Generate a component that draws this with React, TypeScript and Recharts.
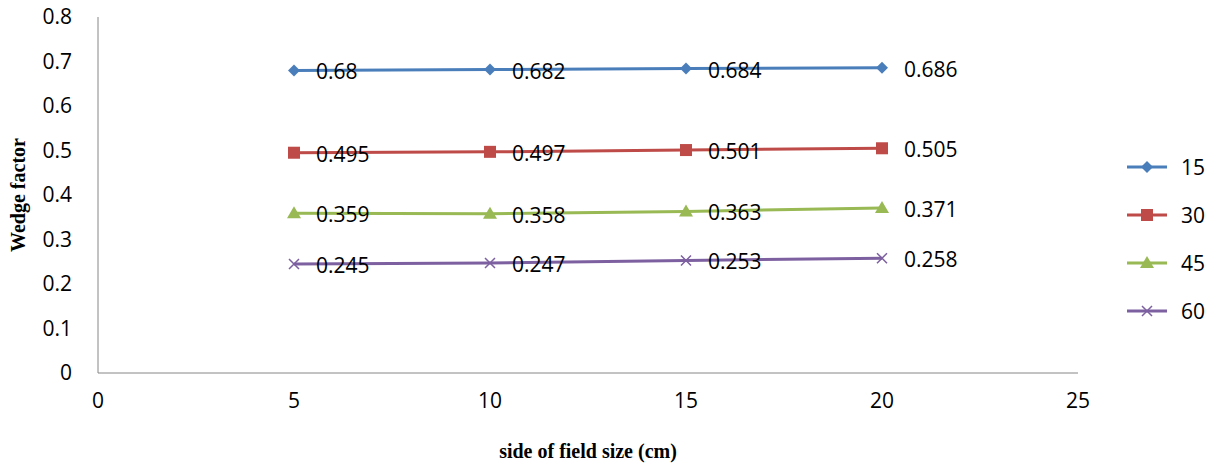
import React from "react";
import { LineChart, Line, XAxis, YAxis, Legend, LabelList, Label } from "recharts";

const fieldSizes = [5, 10, 15, 20];
const s15 = [0.68, 0.682, 0.684, 0.686];
const s30 = [0.495, 0.497, 0.501, 0.505];
const s45 = [0.359, 0.358, 0.363, 0.371];
const s60 = [0.245, 0.247, 0.253, 0.258];
const xTicks = [0, 5, 10, 15, 20, 25];
const yTicks = [0, 0.1, 0.2, 0.3, 0.4, 0.5, 0.6, 0.7, 0.8];

const data = fieldSizes.map((x, i) => ({ x, s15: s15[i], s30: s30[i], s45: s45[i], s60: s60[i] }));

const series = [
  { key: "s15", name: "15", color: "#4A7EBB", shape: "diamond" },
  { key: "s30", name: "30", color: "#BE4B48", shape: "square" },
  { key: "s45", name: "45", color: "#98B954", shape: "triangle" },
  { key: "s60", name: "60", color: "#7D60A0", shape: "cross" },
];

const font = "'Open Sans', 'Noto Sans', sans-serif";

function Marker({ cx, cy, shape, color }: any) {
  if (cx == null || cy == null) return null;
  if (shape === "diamond")
    return <path d={`M${cx},${cy - 6}L${cx + 6},${cy}L${cx},${cy + 6}L${cx - 6},${cy}Z`} fill={color} />;
  if (shape === "square") return <rect x={cx - 6} y={cy - 6} width={12} height={12} fill={color} />;
  if (shape === "triangle")
    return <path d={`M${cx},${cy - 7}L${cx + 7},${cy + 5}L${cx - 7},${cy + 5}Z`} fill={color} />;
  return (
    <path d={`M${cx - 5},${cy - 5}L${cx + 5},${cy + 5}M${cx - 5},${cy + 5}L${cx + 5},${cy - 5}`} stroke={color} strokeWidth={1.5} />
  );
}

function LegendContent() {
  return (
    <div style={{ fontFamily: font, fontSize: 21 }}>
      {series.map((s) => (
        <div key={s.key} style={{ display: "flex", alignItems: "center", height: 48 }}>
          <svg width={44} height={20}>
            <line x1={2} y1={10} x2={42} y2={10} stroke={s.color} strokeWidth={3} />
            <Marker cx={22} cy={10} shape={s.shape} color={s.color} />
          </svg>
          <span style={{ marginLeft: 12 }}>{s.name}</span>
        </div>
      ))}
    </div>
  );
}

export default function App() {
  return (
    <div style={{ position: "absolute", left: 0, top: 0, background: "#fff" }}>
      <LineChart width={1222} height={466} data={data} margin={{ top: 17, right: 54, left: 20, bottom: 13 }}>
        <XAxis
          dataKey="x"
          type="number"
          domain={[0, 25]}
          ticks={xTicks}
          tickLine={false}
          stroke="#868686"
          tick={{ fill: "#000", fontSize: 21, fontFamily: font }}
          tickMargin={14}
          height={80}
        >
          <Label
            value="side of field size (cm)"
            position="insideBottom"
            offset={-5}
            style={{ fontFamily: "'Liberation Serif', serif", fontWeight: "bold", fontSize: 20, fill: "#000" }}
          />
        </XAxis>
        <YAxis
          type="number"
          domain={[0, 0.8]}
          ticks={yTicks}
          tickLine={false}
          stroke="#868686"
          width={78}
          tickMargin={20}
          tick={{ fill: "#000", fontSize: 21, fontFamily: font }}
        >
          <Label
            value="Wedge factor"
            angle={-90}
            position="insideLeft"
            offset={-2}
            style={{ textAnchor: "middle", fontFamily: "'Liberation Serif', serif", fontWeight: "bold", fontSize: 20, fill: "#000" }}
          />
        </YAxis>
        <Legend
          layout="vertical"
          align="right"
          verticalAlign="top"
          content={<LegendContent />}
          wrapperStyle={{ position: "absolute", left: 1125, top: 143, width: 90 }}
        />
        {series.map((s) => (
          <Line
            key={s.key}
            dataKey={s.key}
            name={s.name}
            stroke={s.color}
            strokeWidth={3}
            isAnimationActive={false}
            dot={(p: any) => <Marker key={p.index} cx={p.cx} cy={p.cy} shape={s.shape} color={s.color} />}
            activeDot={false}
          >
            <LabelList
              dataKey={s.key}
              content={(p: any) => (
                <text x={p.x + 22} y={p.y + 9} fontSize={21} fontFamily={font} fill="#000">
                  {p.value}
                </text>
              )}
            />
          </Line>
        ))}
      </LineChart>
    </div>
  );
}
